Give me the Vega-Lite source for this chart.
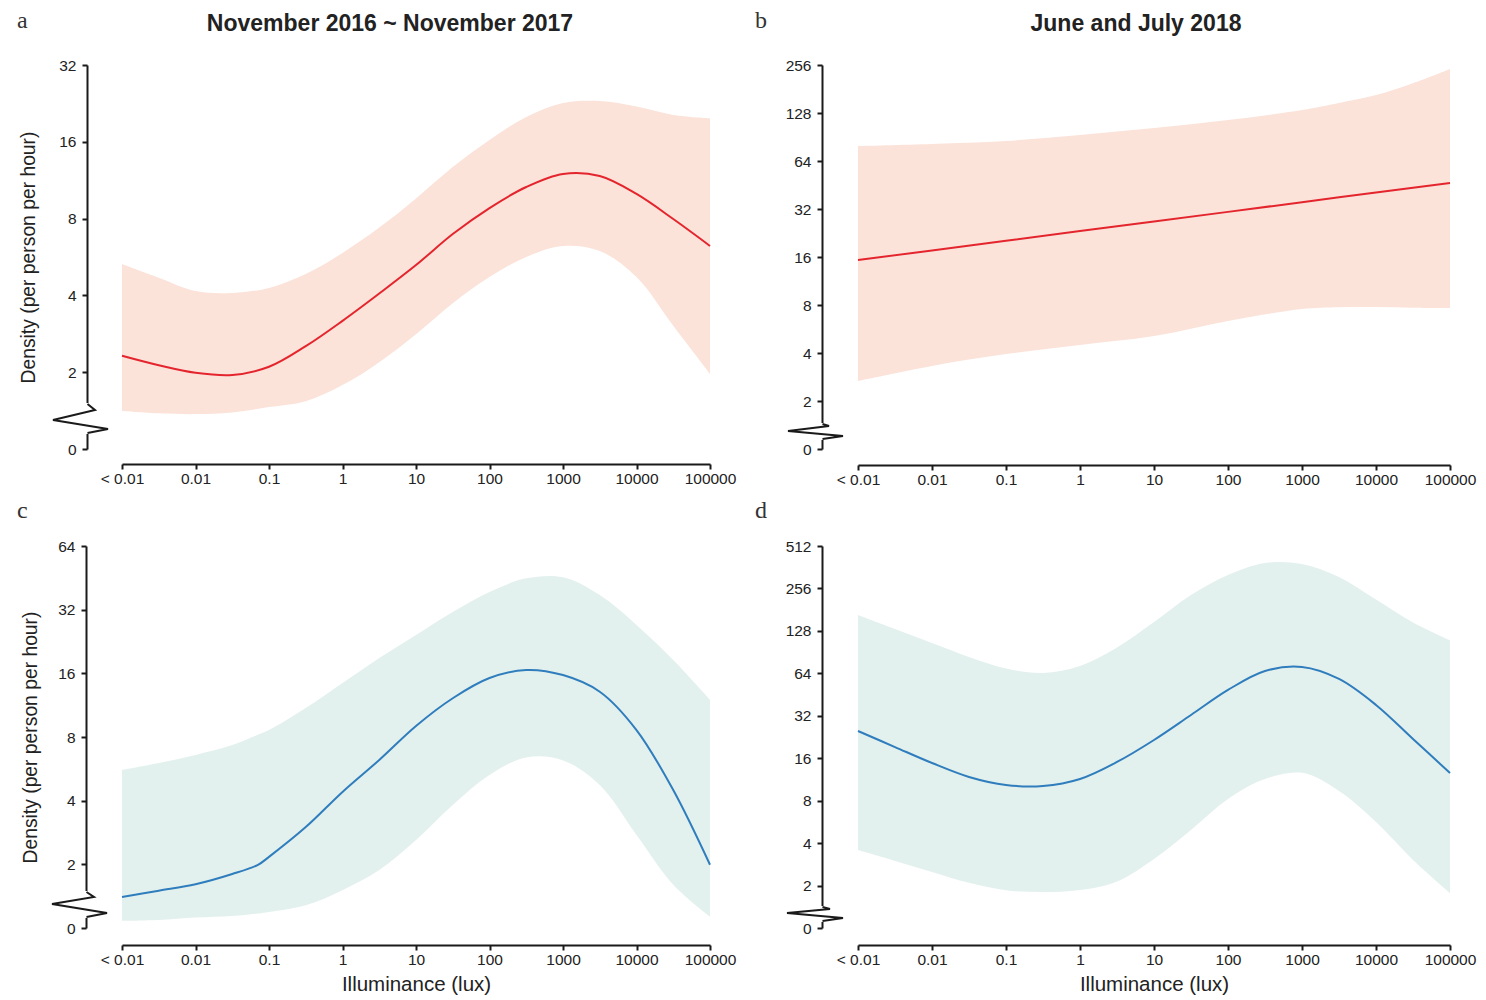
{
  "$schema": "https://vega.github.io/schema/vega-lite/v6.json",
  "padding": {"left": 17, "top": 9, "right": 5, "bottom": 5},
  "background": "white",
  "bounds": "flush",
  "columns": 2,
  "spacing": {"row": 97, "column": 148},
  "config": {
    "view": {"stroke": null},
    "axis": {
      "grid": false,
      "domainColor": "#1a1a1a",
      "domainWidth": 2,
      "tickColor": "#1a1a1a",
      "tickWidth": 2,
      "tickSize": 5,
      "labelFont": "Liberation Sans",
      "labelFontSize": 15.5,
      "labelColor": "#222",
      "labelFlush": false,
      "labelOverlap": false,
      "titleFont": "Liberation Sans",
      "titleFontWeight": "normal",
      "titleColor": "#222"
    },
    "axisX": {"labelPadding": 2, "titleFontSize": 20.5, "titlePadding": 7, "offset": 16},
    "axisY": {"labelPadding": 6, "titleFontSize": 19.3}
  },
  "datasets": {
    "a": [
      {"log10_lux": -3, "fit": 2.32, "lower": 1.41, "upper": 5.31},
      {"log10_lux": -2.5, "fit": 2.13, "lower": 1.38, "upper": 4.69},
      {"log10_lux": -2, "fit": 1.99, "lower": 1.37, "upper": 4.16},
      {"log10_lux": -1.5, "fit": 1.95, "lower": 1.39, "upper": 4.09},
      {"log10_lux": -1, "fit": 2.1, "lower": 1.46, "upper": 4.28},
      {"log10_lux": -0.5, "fit": 2.53, "lower": 1.54, "upper": 4.85},
      {"log10_lux": 0, "fit": 3.18, "lower": 1.78, "upper": 5.87},
      {"log10_lux": 0.5, "fit": 4.07, "lower": 2.19, "upper": 7.38},
      {"log10_lux": 1, "fit": 5.26, "lower": 2.82, "upper": 9.6},
      {"log10_lux": 1.5, "fit": 6.96, "lower": 3.73, "upper": 12.75},
      {"log10_lux": 2, "fit": 8.8, "lower": 4.72, "upper": 16.26},
      {"log10_lux": 2.5, "fit": 10.64, "lower": 5.66, "upper": 20.0},
      {"log10_lux": 3, "fit": 11.97, "lower": 6.25, "upper": 22.7},
      {"log10_lux": 3.5, "fit": 11.75, "lower": 5.97, "upper": 23.1},
      {"log10_lux": 4, "fit": 9.99, "lower": 4.72, "upper": 22.0},
      {"log10_lux": 4.5, "fit": 7.97, "lower": 3.04, "upper": 20.4},
      {"log10_lux": 5, "fit": 6.25, "lower": 1.97, "upper": 19.8}
    ],
    "b": [
      {"log10_lux": -3, "fit": 15.3, "lower": 2.67, "upper": 79.4},
      {"log10_lux": -2, "fit": 17.6, "lower": 3.32, "upper": 81.8},
      {"log10_lux": -1, "fit": 20.2, "lower": 3.94, "upper": 85.4},
      {"log10_lux": 0, "fit": 23.3, "lower": 4.49, "upper": 93.3},
      {"log10_lux": 1, "fit": 26.7, "lower": 5.11, "upper": 103},
      {"log10_lux": 2, "fit": 30.7, "lower": 6.35, "upper": 115.7},
      {"log10_lux": 3, "fit": 35.3, "lower": 7.55, "upper": 133.7},
      {"log10_lux": 3.5, "fit": 37.9, "lower": 7.75, "upper": 148},
      {"log10_lux": 4, "fit": 40.6, "lower": 7.77, "upper": 166},
      {"log10_lux": 4.5, "fit": 43.5, "lower": 7.7, "upper": 197},
      {"log10_lux": 5, "fit": 46.6, "lower": 7.66, "upper": 242}
    ],
    "c": [
      {"log10_lux": -3, "fit": 1.4, "lower": 1.08, "upper": 5.59},
      {"log10_lux": -2.5, "fit": 1.5, "lower": 1.09, "upper": 6.03},
      {"log10_lux": -2, "fit": 1.61, "lower": 1.12, "upper": 6.58},
      {"log10_lux": -1.5, "fit": 1.8, "lower": 1.14, "upper": 7.33},
      {"log10_lux": -1.15, "fit": 1.99, "lower": 1.17, "upper": 8.2},
      {"log10_lux": -1, "fit": 2.17, "lower": 1.19, "upper": 8.63},
      {"log10_lux": -0.5, "fit": 3.0, "lower": 1.28, "upper": 10.97},
      {"log10_lux": 0, "fit": 4.4, "lower": 1.51, "upper": 14.4},
      {"log10_lux": 0.5, "fit": 6.23, "lower": 1.88, "upper": 18.9},
      {"log10_lux": 1, "fit": 9.02, "lower": 2.61, "upper": 24.3},
      {"log10_lux": 1.5, "fit": 12.2, "lower": 3.82, "upper": 31.2},
      {"log10_lux": 2, "fit": 15.2, "lower": 5.29, "upper": 38.8},
      {"log10_lux": 2.5, "fit": 16.6, "lower": 6.4, "upper": 45.0},
      {"log10_lux": 3, "fit": 15.7, "lower": 6.2, "upper": 45.5},
      {"log10_lux": 3.5, "fit": 13.1, "lower": 4.74, "upper": 37.5},
      {"log10_lux": 4, "fit": 8.63, "lower": 2.75, "upper": 27.1},
      {"log10_lux": 4.5, "fit": 4.49, "lower": 1.6, "upper": 18.5},
      {"log10_lux": 5, "fit": 1.99, "lower": 1.13, "upper": 12.0}
    ],
    "d": [
      {"log10_lux": -3, "fit": 24.97, "lower": 3.57, "upper": 166},
      {"log10_lux": -2.5, "fit": 19.2, "lower": 2.99, "upper": 132},
      {"log10_lux": -2, "fit": 14.8, "lower": 2.5, "upper": 105},
      {"log10_lux": -1.5, "fit": 11.78, "lower": 2.09, "upper": 83.6},
      {"log10_lux": -1, "fit": 10.33, "lower": 1.85, "upper": 69.2},
      {"log10_lux": -0.5, "fit": 10.17, "lower": 1.8, "upper": 64.4},
      {"log10_lux": 0, "fit": 11.4, "lower": 1.86, "upper": 72.2},
      {"log10_lux": 0.5, "fit": 15.05, "lower": 2.14, "upper": 97.6},
      {"log10_lux": 1, "fit": 21.55, "lower": 3.09, "upper": 148},
      {"log10_lux": 1.5, "fit": 32.4, "lower": 4.96, "upper": 230},
      {"log10_lux": 2, "fit": 48.8, "lower": 8.22, "upper": 319},
      {"log10_lux": 2.5, "fit": 66.5, "lower": 11.4, "upper": 388},
      {"log10_lux": 3, "fit": 71.0, "lower": 12.6, "upper": 382},
      {"log10_lux": 3.5, "fit": 58.4, "lower": 9.37, "upper": 309},
      {"log10_lux": 4, "fit": 38.2, "lower": 5.65, "upper": 214},
      {"log10_lux": 4.5, "fit": 21.9, "lower": 3.04, "upper": 147},
      {"log10_lux": 5, "fit": 12.57, "lower": 1.77, "upper": 110}
    ]
  },
  "concat": [
    {
      "width": 588,
      "height": 384,
      "layer": [
        {
          "data": {"name": "a"},
          "mark": {"type": "area", "interpolate": "catmull-rom", "color": "#fbe3da", "opacity": 1},
          "encoding": {
            "x": {"field": "log10_lux", "type": "quantitative", "scale": {"domain": [-3, 5], "nice": false, "zero": false},
              "axis": {"values": [-3, -2, -1, 0, 1, 2, 3, 4, 5], "labelExpr": "['< 0.01','0.01','0.1','1','10','100','1000','10000','100000'][datum.value + 3]", "title": null, "offset": 15}},
            "y": {"field": "lower", "type": "quantitative", "scale": {"type": "log", "base": 2, "domain": [1, 32], "nice": false},
              "axis": {"values": [1, 2, 4, 8, 16, 32], "format": "d", "labelExpr": "datum.value == 1 ? '0' : datum.label", "offset": 35, "title": "Density (per person per hour)", "titlePadding": 20}},
            "y2": {"field": "upper"}
          }
        },
        {
          "data": {"name": "a"},
          "mark": {"type": "line", "interpolate": "catmull-rom", "color": "#e4252d", "strokeWidth": 2},
          "encoding": {
            "x": {"field": "log10_lux", "type": "quantitative"},
            "y": {"field": "fit", "type": "quantitative"}
          }
        },
        {
          "data": {"values": [{"panel": "a", "heading": "November 2016 ~ November 2017"}]},
          "layer": [
            {"mark": {"type": "point", "shape": "M-38,-46L-31,-46L-31,-15L-38,-15Z", "size": 4, "filled": true, "color": "white", "strokeWidth": 0, "opacity": 1},
              "encoding": {"x": {"datum": -3}, "y": {"datum": 1}}},
            {"mark": {"type": "point", "shape": "M-34.5,-45L-27,-39L-69,-29L-14,-20L-34.5,-16", "size": 4, "filled": false, "color": "#1a1a1a", "strokeWidth": 2, "opacity": 1},
              "encoding": {"x": {"datum": -3}, "y": {"datum": 1}}},
            {"mark": {"type": "text", "font": "Liberation Serif", "fontSize": 24, "align": "left", "baseline": "alphabetic", "dx": -105, "dy": -37, "color": "#333"},
              "encoding": {"x": {"datum": -3}, "y": {"datum": 32}, "text": {"field": "panel"}}},
            {"mark": {"type": "text", "font": "Liberation Sans", "fontSize": 23, "fontWeight": "bold", "align": "center", "baseline": "alphabetic", "dx": -26, "dy": -34, "color": "#222"},
              "encoding": {"x": {"datum": 1}, "y": {"datum": 32}, "text": {"field": "heading"}}}
          ]
        }
      ]
    },
    {
      "width": 592,
      "height": 384,
      "layer": [
        {
          "data": {"name": "b"},
          "mark": {"type": "area", "interpolate": "catmull-rom", "color": "#fbe3da", "opacity": 1},
          "encoding": {
            "x": {"field": "log10_lux", "type": "quantitative", "scale": {"domain": [-3, 5], "nice": false, "zero": false},
              "axis": {"values": [-3, -2, -1, 0, 1, 2, 3, 4, 5], "labelExpr": "['< 0.01','0.01','0.1','1','10','100','1000','10000','100000'][datum.value + 3]", "title": null, "offset": 16}},
            "y": {"field": "lower", "type": "quantitative", "scale": {"type": "log", "base": 2, "domain": [1, 256], "nice": false},
              "axis": {"values": [1, 2, 4, 8, 16, 32, 64, 128, 256], "format": "d", "labelExpr": "datum.value == 1 ? '0' : datum.label", "offset": 36, "title": null}},
            "y2": {"field": "upper"}
          }
        },
        {
          "data": {"name": "b"},
          "mark": {"type": "line", "interpolate": "linear", "color": "#e4252d", "strokeWidth": 2},
          "encoding": {
            "x": {"field": "log10_lux", "type": "quantitative"},
            "y": {"field": "fit", "type": "quantitative"}
          }
        },
        {
          "data": {"values": [{"panel": "b", "heading": "June and July 2018"}]},
          "layer": [
            {"mark": {"type": "point", "shape": "M-39,-26L-32,-26L-32,-9L-39,-9Z", "size": 4, "filled": true, "color": "white", "strokeWidth": 0, "opacity": 1},
              "encoding": {"x": {"datum": -3}, "y": {"datum": 1}}},
            {"mark": {"type": "point", "shape": "M-35.5,-25L-29,-23L-70,-18L-15,-13L-35.5,-10", "size": 4, "filled": false, "color": "#1a1a1a", "strokeWidth": 2, "opacity": 1},
              "encoding": {"x": {"datum": -3}, "y": {"datum": 1}}},
            {"mark": {"type": "text", "font": "Liberation Serif", "fontSize": 24, "align": "left", "baseline": "alphabetic", "dx": -103, "dy": -37, "color": "#333"},
              "encoding": {"x": {"datum": -3}, "y": {"datum": 256}, "text": {"field": "panel"}}},
            {"mark": {"type": "text", "font": "Liberation Sans", "fontSize": 23, "fontWeight": "bold", "align": "center", "baseline": "alphabetic", "dx": -18, "dy": -34, "color": "#222"},
              "encoding": {"x": {"datum": 1}, "y": {"datum": 256}, "text": {"field": "heading"}}}
          ]
        }
      ]
    },
    {
      "width": 588,
      "height": 382,
      "layer": [
        {
          "data": {"name": "c"},
          "mark": {"type": "area", "interpolate": "catmull-rom", "color": "#e3f1ee", "opacity": 1},
          "encoding": {
            "x": {"field": "log10_lux", "type": "quantitative", "scale": {"domain": [-3, 5], "nice": false, "zero": false},
              "axis": {"values": [-3, -2, -1, 0, 1, 2, 3, 4, 5], "labelExpr": "['< 0.01','0.01','0.1','1','10','100','1000','10000','100000'][datum.value + 3]", "title": "Illuminance (lux)", "offset": 17}},
            "y": {"field": "lower", "type": "quantitative", "scale": {"type": "log", "base": 2, "domain": [1, 64], "nice": false},
              "axis": {"values": [1, 2, 4, 8, 16, 32, 64], "format": "d", "labelExpr": "datum.value == 1 ? '0' : datum.label", "offset": 36, "title": "Density (per person per hour)", "titlePadding": 17}},
            "y2": {"field": "upper"}
          }
        },
        {
          "data": {"name": "c"},
          "mark": {"type": "line", "interpolate": "catmull-rom", "color": "#2f7dbd", "strokeWidth": 2},
          "encoding": {
            "x": {"field": "log10_lux", "type": "quantitative"},
            "y": {"field": "fit", "type": "quantitative"}
          }
        },
        {
          "data": {"values": [{"panel": "c"}]},
          "layer": [
            {"mark": {"type": "point", "shape": "M-39,-37L-32,-37L-32,-10L-39,-10Z", "size": 4, "filled": true, "color": "white", "strokeWidth": 0, "opacity": 1},
              "encoding": {"x": {"datum": -3}, "y": {"datum": 1}}},
            {"mark": {"type": "point", "shape": "M-35.5,-36L-28,-31L-70,-24L-15,-15L-35.5,-11", "size": 4, "filled": false, "color": "#1a1a1a", "strokeWidth": 2, "opacity": 1},
              "encoding": {"x": {"datum": -3}, "y": {"datum": 1}}},
            {"mark": {"type": "text", "font": "Liberation Serif", "fontSize": 24, "align": "left", "baseline": "alphabetic", "dx": -105, "dy": -28, "color": "#333"},
              "encoding": {"x": {"datum": -3}, "y": {"datum": 64}, "text": {"field": "panel"}}}
          ]
        }
      ]
    },
    {
      "width": 592,
      "height": 382,
      "layer": [
        {
          "data": {"name": "d"},
          "mark": {"type": "area", "interpolate": "catmull-rom", "color": "#e3f1ee", "opacity": 1},
          "encoding": {
            "x": {"field": "log10_lux", "type": "quantitative", "scale": {"domain": [-3, 5], "nice": false, "zero": false},
              "axis": {"values": [-3, -2, -1, 0, 1, 2, 3, 4, 5], "labelExpr": "['< 0.01','0.01','0.1','1','10','100','1000','10000','100000'][datum.value + 3]", "title": "Illuminance (lux)", "offset": 17}},
            "y": {"field": "lower", "type": "quantitative", "scale": {"type": "log", "base": 2, "domain": [1, 512], "nice": false},
              "axis": {"values": [1, 2, 4, 8, 16, 32, 64, 128, 256, 512], "format": "d", "labelExpr": "datum.value == 1 ? '0' : datum.label", "offset": 36, "title": null}},
            "y2": {"field": "upper"}
          }
        },
        {
          "data": {"name": "d"},
          "mark": {"type": "line", "interpolate": "catmull-rom", "color": "#2f7dbd", "strokeWidth": 2},
          "encoding": {
            "x": {"field": "log10_lux", "type": "quantitative"},
            "y": {"field": "fit", "type": "quantitative"}
          }
        },
        {
          "data": {"values": [{"panel": "d"}]},
          "layer": [
            {"mark": {"type": "point", "shape": "M-39,-22L-32,-22L-32,-6L-39,-6Z", "size": 4, "filled": true, "color": "white", "strokeWidth": 0, "opacity": 1},
              "encoding": {"x": {"datum": -3}, "y": {"datum": 1}}},
            {"mark": {"type": "point", "shape": "M-35.5,-21L-28,-19L-71,-15L-15,-10L-35.5,-7", "size": 4, "filled": false, "color": "#1a1a1a", "strokeWidth": 2, "opacity": 1},
              "encoding": {"x": {"datum": -3}, "y": {"datum": 1}}},
            {"mark": {"type": "text", "font": "Liberation Serif", "fontSize": 24, "align": "left", "baseline": "alphabetic", "dx": -103, "dy": -28, "color": "#333"},
              "encoding": {"x": {"datum": -3}, "y": {"datum": 512}, "text": {"field": "panel"}}}
          ]
        }
      ]
    }
  ]
}
